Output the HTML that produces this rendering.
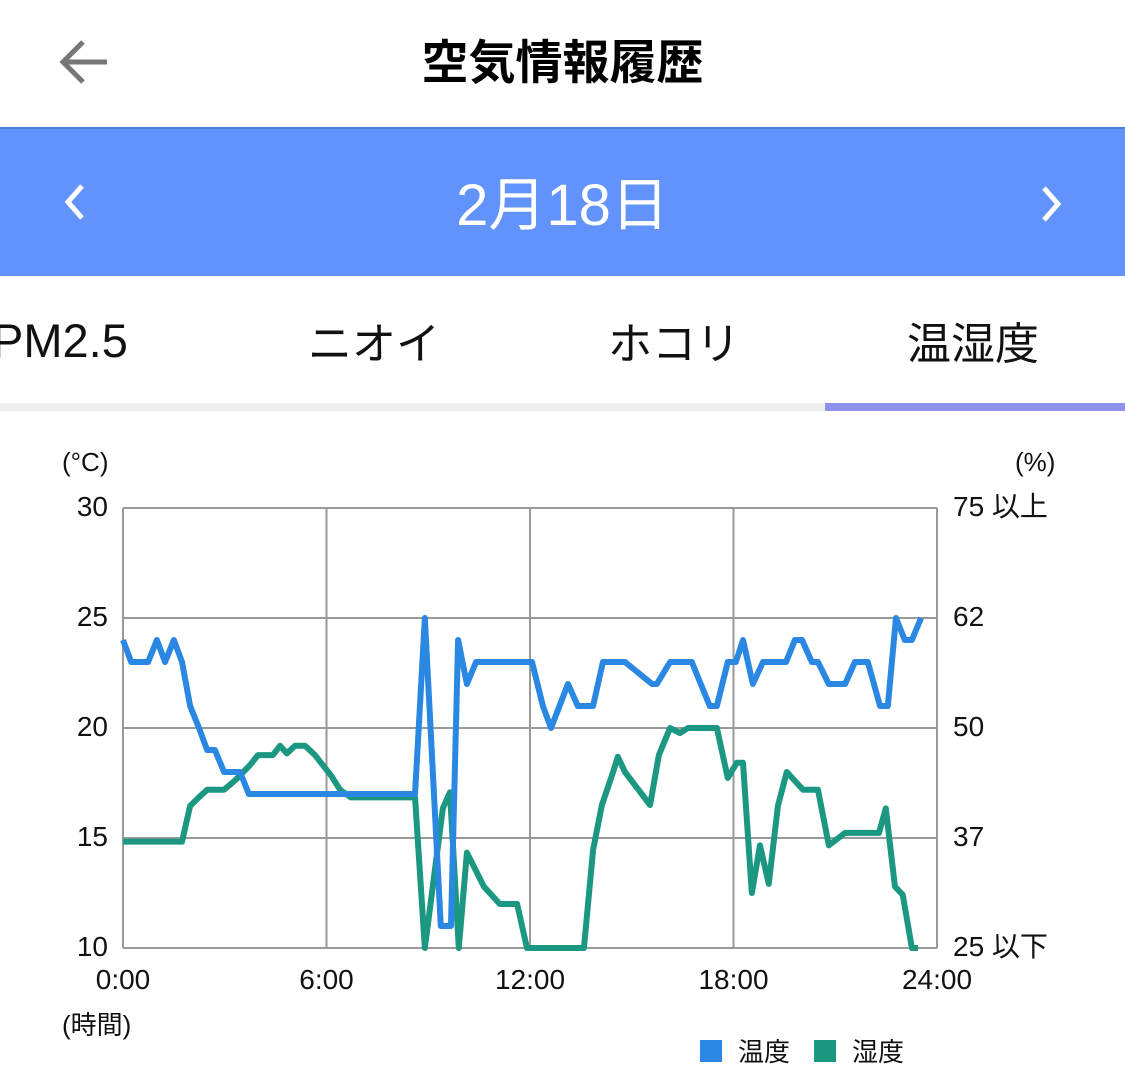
<!DOCTYPE html>
<html><head><meta charset="utf-8">
<style>
body{margin:0;width:1125px;height:1085px;background:#fff;font-family:"Liberation Sans","Noto Sans CJK JP",sans-serif;overflow:hidden;position:relative}
.abs{position:absolute}
</style></head>
<body>
<div class="abs" style="left:55px;top:35px;width:60px;height:55px">
<svg width="60" height="55"><path d="M8 27 H52 M28 7 L8 27 L28 47" stroke="#777" stroke-width="5" fill="none"/></svg></div>
<div class="abs" style="left:0;width:1125px;top:24px;text-align:center;font-size:47px;font-weight:bold;color:#000">空気情報履歴</div>
<div class="abs" style="left:0;top:127px;width:1125px;height:149px;background:#6193fb;border-top:2px solid #4f7fd8;box-sizing:border-box"></div>
<div class="abs" style="left:60px;top:182px"><svg width="30" height="40"><path d="M22 4 L8 20 L22 36" stroke="#fff" stroke-width="5" fill="none"/></svg></div>
<div class="abs" style="left:0;width:1125px;top:158px;text-align:center;font-size:58px;color:#fff">2月18日</div>
<div class="abs" style="left:1036px;top:184px"><svg width="30" height="40"><path d="M8 4 L22 20 L8 36" stroke="#fff" stroke-width="5" fill="none"/></svg></div>
<div class="abs" style="left:-8px;top:313px;font-size:47px;color:#111">PM2.5</div>
<div class="abs" style="left:308px;top:308px;font-size:44px;color:#111">ニオイ</div>
<div class="abs" style="left:608px;top:308px;font-size:44px;color:#111">ホコリ</div>
<div class="abs" style="left:907px;top:308px;font-size:44px;color:#111">温湿度</div>
<div class="abs" style="left:0;top:403px;width:1125px;height:8px;background:#eeeeee"></div>
<div class="abs" style="left:825px;top:403px;width:300px;height:8px;background:#9090ee"></div>
<svg id="chart" class="abs" style="left:0;top:420px" width="1125" height="665"></svg>
<script>
const xTicks=[0,6,12,18,24];
const xTickLabels=["0:00","6:00","12:00","18:00","24:00"];
const tempTicks=[10,15,20,25,30];
const humTickValues=[25,37,50,62,75];
const humTickLabels=["25 以下","37","50","62","75 以上"];
const tempHours=[0,0.24,0.74,1.0,1.24,1.5,1.74,1.98,2.24,2.48,2.71,2.98,3.45,3.71,8.61,8.9,9.37,9.67,9.88,10.14,10.41,12.06,12.38,12.62,13.12,13.41,13.86,14.15,14.8,15.6,15.74,16.13,16.77,17.3,17.51,17.83,18.07,18.28,18.57,18.87,19.55,19.81,20.02,20.31,20.49,20.81,21.29,21.58,21.96,22.32,22.55,22.79,23.05,23.26,23.53];
const tempValues=[24,23,23,24,23,24,23,21,20,19,19,18,18,17,17,25,11,11,24,22,23,23,21,20,22,21,21,23,23,22,22,23,23,21,21,23,23,24,22,23,23,24,24,23,23,22,22,23,23,21,21,25,24,24,25];
const humHours=[0,1.74,1.98,2.21,2.48,2.98,3.33,3.74,3.98,4.42,4.63,4.83,5.07,5.37,5.66,6.13,6.4,6.72,8.61,8.9,9.43,9.64,9.9,10.14,10.64,11.11,11.62,11.91,13.59,13.86,14.12,14.45,14.59,14.8,15.54,15.8,16.13,16.42,16.66,17.51,17.83,18.1,18.28,18.54,18.78,19.04,19.31,19.57,20.05,20.49,20.81,21.29,22.29,22.49,22.76,22.99,23.26,23.44];
const humValues=[36.6,36.6,40.8,41.7,42.7,42.7,43.9,45.6,46.8,46.8,47.9,47.0,47.9,47.9,46.8,44.4,42.7,41.8,41.8,25,40.5,42.4,25,35.4,31.7,29.8,29.8,25,25,35.7,40.9,44.8,46.6,44.8,40.9,46.8,50,49.4,50,50,44.1,45.9,45.9,31.0,36.2,32.0,40.8,44.8,42.7,42.7,36.2,37.6,37.6,40.5,31.7,30.8,25,25];
const NS="http://www.w3.org/2000/svg";
const svg=document.getElementById('chart');
const L=123,R=937,T=88,B=528;
function xs(h){return L+(R-L)*h/24;}
function ys(t){return B-(t-10)/20*(B-T);}
function yh(v){for(let i=0;i<humTickValues.length-1;i++){const a=humTickValues[i],b=humTickValues[i+1];if(v<=b||i==humTickValues.length-2){const ya=B-i*(B-T)/4;return ya-(v-a)/(b-a)*(B-T)/4;}}}
function mk(tag,attrs,txt){const e=document.createElementNS(NS,tag);for(const k in attrs)e.setAttribute(k,attrs[k]);if(txt!==undefined)e.textContent=txt;svg.appendChild(e);return e;}
const font='"Liberation Sans","Noto Sans CJK JP",sans-serif';
xTicks.forEach((h,i)=>{const g=mk('line',{x1:xs(h),x2:xs(h),y1:T,y2:B,stroke:'#999','stroke-width':2});


const t=mk('text',{x:xs(h),y:B+41,'text-anchor':'middle','font-size':28,fill:'#111','font-family':font},xTickLabels[i]);

});
tempTicks.forEach(v=>{const g=mk('line',{x1:L,x2:R,y1:ys(v),y2:ys(v),stroke:'#999','stroke-width':2});


const t=mk('text',{x:108,y:ys(v)+8,'text-anchor':'end','font-size':28,fill:'#111','font-family':font},String(v));

});
humTickValues.forEach((v,i)=>{const t=mk('text',{x:953,y:yh(v)+8,'font-size':28,fill:'#111','font-family':font},humTickLabels[i]);

});
const lu=mk('text',{x:62,y:51,'font-size':26,fill:'#111','font-family':font},'(°C)');


const ru=mk('text',{x:1015,y:51,'font-size':26,fill:'#111','font-family':font},'(%)');


const xt=mk('text',{x:62,y:614,'font-size':26,fill:'#111','font-family':font},'(時間)');


const hp=mk('polyline',{points:humHours.map((h,i)=>xs(h)+','+yh(humValues[i])).join(' '),fill:'none',stroke:'#1b9782','stroke-width':6,'stroke-linejoin':'round'});


const tp=mk('polyline',{points:tempHours.map((h,i)=>xs(h)+','+ys(tempValues[i])).join(' '),fill:'none',stroke:'#2a88e2','stroke-width':6,'stroke-linejoin':'round'});


const ls1=mk('rect',{x:700,y:620,width:22,height:22,fill:'#2a88e2'});


const lt1=mk('text',{x:738,y:641,'font-size':26,fill:'#111','font-family':font},'温度');


const ls2=mk('rect',{x:814,y:620,width:22,height:22,fill:'#1b9782'});


const lt2=mk('text',{x:852,y:641,'font-size':26,fill:'#111','font-family':font},'湿度');


</script>
</body></html>
